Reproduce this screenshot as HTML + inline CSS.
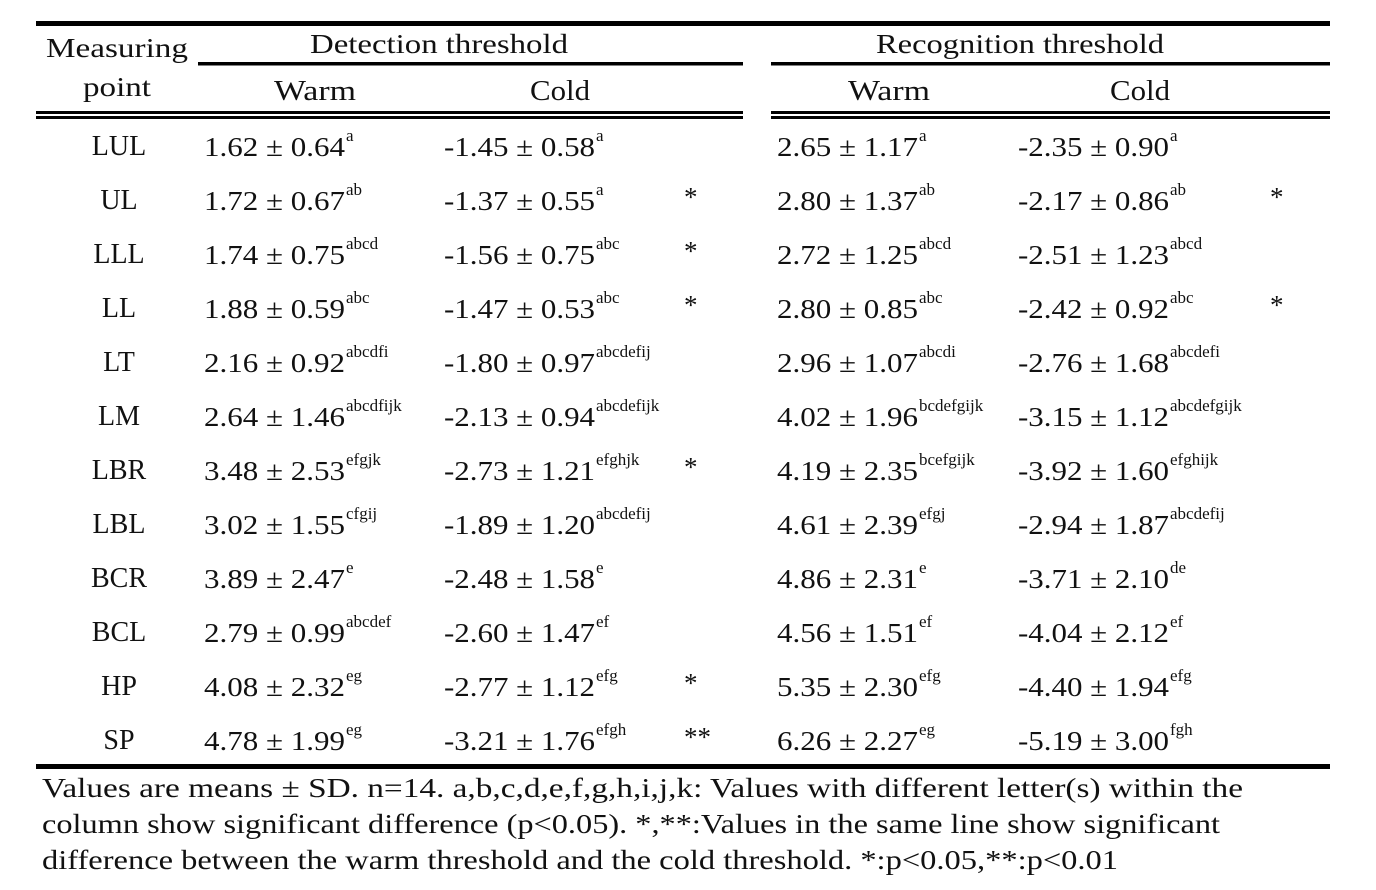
<!DOCTYPE html>
<html><head><meta charset="utf-8"><style>
html,body{margin:0;padding:0;background:#fff;}
svg{display:block;}
text{font-family:"Liberation Serif",serif;fill:#111;}
.m{font-size:27px;}
.l{font-size:28px;}
.s{font-size:17px;}
</style></head><body>
<svg width="1376" height="890" viewBox="0 0 1376 890" xmlns="http://www.w3.org/2000/svg">
<rect x="36" y="21" width="1294" height="5" fill="#000"/>
<rect x="198" y="62" width="545" height="3.5" fill="#000"/>
<rect x="771" y="62" width="559" height="3.5" fill="#000"/>
<rect x="36" y="111" width="707" height="3" fill="#000"/>
<rect x="36" y="116" width="707" height="3" fill="#000"/>
<rect x="771" y="111" width="559" height="3" fill="#000"/>
<rect x="771" y="116" width="559" height="3" fill="#000"/>
<rect x="36" y="764" width="1294" height="5" fill="#000"/>

<text class="m" x="117" y="57" text-anchor="middle" textLength="142" lengthAdjust="spacingAndGlyphs">Measuring</text>
<text class="m" x="117" y="96" text-anchor="middle" textLength="68" lengthAdjust="spacingAndGlyphs">point</text>
<text class="m" x="310" y="53" textLength="258" lengthAdjust="spacingAndGlyphs">Detection threshold</text>
<text class="m" x="876" y="53" textLength="288" lengthAdjust="spacingAndGlyphs">Recognition threshold</text>
<text class="l" x="274" y="100" textLength="82" lengthAdjust="spacingAndGlyphs">Warm</text>
<text class="l" x="530" y="100" textLength="60" lengthAdjust="spacingAndGlyphs">Cold</text>
<text class="l" x="848" y="100" textLength="82" lengthAdjust="spacingAndGlyphs">Warm</text>
<text class="l" x="1110" y="100" textLength="60" lengthAdjust="spacingAndGlyphs">Cold</text>

<g>
<text class="l" x="119" y="155" text-anchor="middle">LUL</text>
<text class="m" x="204" y="156" textLength="141" lengthAdjust="spacingAndGlyphs">1.62 ± 0.64</text><text class="s" x="346" y="141">a</text>
<text class="m" x="444" y="156" textLength="151" lengthAdjust="spacingAndGlyphs">-1.45 ± 0.58</text><text class="s" x="596" y="141">a</text>
<text class="m" x="777" y="156" textLength="141" lengthAdjust="spacingAndGlyphs">2.65 ± 1.17</text><text class="s" x="919" y="141">a</text>
<text class="m" x="1018" y="156" textLength="151" lengthAdjust="spacingAndGlyphs">-2.35 ± 0.90</text><text class="s" x="1170" y="141">a</text>

<text class="l" x="119" y="209" text-anchor="middle">UL</text>
<text class="m" x="204" y="210" textLength="141" lengthAdjust="spacingAndGlyphs">1.72 ± 0.67</text><text class="s" x="346" y="195">ab</text>
<text class="m" x="444" y="210" textLength="151" lengthAdjust="spacingAndGlyphs">-1.37 ± 0.55</text><text class="s" x="596" y="195">a</text>
<text class="m" x="684" y="206">*</text>
<text class="m" x="777" y="210" textLength="141" lengthAdjust="spacingAndGlyphs">2.80 ± 1.37</text><text class="s" x="919" y="195">ab</text>
<text class="m" x="1018" y="210" textLength="151" lengthAdjust="spacingAndGlyphs">-2.17 ± 0.86</text><text class="s" x="1170" y="195">ab</text>
<text class="m" x="1270" y="206">*</text>

<text class="l" x="119" y="263" text-anchor="middle">LLL</text>
<text class="m" x="204" y="264" textLength="141" lengthAdjust="spacingAndGlyphs">1.74 ± 0.75</text><text class="s" x="346" y="249">abcd</text>
<text class="m" x="444" y="264" textLength="151" lengthAdjust="spacingAndGlyphs">-1.56 ± 0.75</text><text class="s" x="596" y="249">abc</text>
<text class="m" x="684" y="260">*</text>
<text class="m" x="777" y="264" textLength="141" lengthAdjust="spacingAndGlyphs">2.72 ± 1.25</text><text class="s" x="919" y="249">abcd</text>
<text class="m" x="1018" y="264" textLength="151" lengthAdjust="spacingAndGlyphs">-2.51 ± 1.23</text><text class="s" x="1170" y="249">abcd</text>

<text class="l" x="119" y="317" text-anchor="middle">LL</text>
<text class="m" x="204" y="318" textLength="141" lengthAdjust="spacingAndGlyphs">1.88 ± 0.59</text><text class="s" x="346" y="303">abc</text>
<text class="m" x="444" y="318" textLength="151" lengthAdjust="spacingAndGlyphs">-1.47 ± 0.53</text><text class="s" x="596" y="303">abc</text>
<text class="m" x="684" y="314">*</text>
<text class="m" x="777" y="318" textLength="141" lengthAdjust="spacingAndGlyphs">2.80 ± 0.85</text><text class="s" x="919" y="303">abc</text>
<text class="m" x="1018" y="318" textLength="151" lengthAdjust="spacingAndGlyphs">-2.42 ± 0.92</text><text class="s" x="1170" y="303">abc</text>
<text class="m" x="1270" y="314">*</text>

<text class="l" x="119" y="371" text-anchor="middle">LT</text>
<text class="m" x="204" y="372" textLength="141" lengthAdjust="spacingAndGlyphs">2.16 ± 0.92</text><text class="s" x="346" y="357">abcdfi</text>
<text class="m" x="444" y="372" textLength="151" lengthAdjust="spacingAndGlyphs">-1.80 ± 0.97</text><text class="s" x="596" y="357">abcdefij</text>
<text class="m" x="777" y="372" textLength="141" lengthAdjust="spacingAndGlyphs">2.96 ± 1.07</text><text class="s" x="919" y="357">abcdi</text>
<text class="m" x="1018" y="372" textLength="151" lengthAdjust="spacingAndGlyphs">-2.76 ± 1.68</text><text class="s" x="1170" y="357">abcdefi</text>

<text class="l" x="119" y="425" text-anchor="middle">LM</text>
<text class="m" x="204" y="426" textLength="141" lengthAdjust="spacingAndGlyphs">2.64 ± 1.46</text><text class="s" x="346" y="411">abcdfijk</text>
<text class="m" x="444" y="426" textLength="151" lengthAdjust="spacingAndGlyphs">-2.13 ± 0.94</text><text class="s" x="596" y="411">abcdefijk</text>
<text class="m" x="777" y="426" textLength="141" lengthAdjust="spacingAndGlyphs">4.02 ± 1.96</text><text class="s" x="919" y="411">bcdefgijk</text>
<text class="m" x="1018" y="426" textLength="151" lengthAdjust="spacingAndGlyphs">-3.15 ± 1.12</text><text class="s" x="1170" y="411">abcdefgijk</text>

<text class="l" x="119" y="479" text-anchor="middle">LBR</text>
<text class="m" x="204" y="480" textLength="141" lengthAdjust="spacingAndGlyphs">3.48 ± 2.53</text><text class="s" x="346" y="465">efgjk</text>
<text class="m" x="444" y="480" textLength="151" lengthAdjust="spacingAndGlyphs">-2.73 ± 1.21</text><text class="s" x="596" y="465">efghjk</text>
<text class="m" x="684" y="476">*</text>
<text class="m" x="777" y="480" textLength="141" lengthAdjust="spacingAndGlyphs">4.19 ± 2.35</text><text class="s" x="919" y="465">bcefgijk</text>
<text class="m" x="1018" y="480" textLength="151" lengthAdjust="spacingAndGlyphs">-3.92 ± 1.60</text><text class="s" x="1170" y="465">efghijk</text>

<text class="l" x="119" y="533" text-anchor="middle">LBL</text>
<text class="m" x="204" y="534" textLength="141" lengthAdjust="spacingAndGlyphs">3.02 ± 1.55</text><text class="s" x="346" y="519">cfgij</text>
<text class="m" x="444" y="534" textLength="151" lengthAdjust="spacingAndGlyphs">-1.89 ± 1.20</text><text class="s" x="596" y="519">abcdefij</text>
<text class="m" x="777" y="534" textLength="141" lengthAdjust="spacingAndGlyphs">4.61 ± 2.39</text><text class="s" x="919" y="519">efgj</text>
<text class="m" x="1018" y="534" textLength="151" lengthAdjust="spacingAndGlyphs">-2.94 ± 1.87</text><text class="s" x="1170" y="519">abcdefij</text>

<text class="l" x="119" y="587" text-anchor="middle">BCR</text>
<text class="m" x="204" y="588" textLength="141" lengthAdjust="spacingAndGlyphs">3.89 ± 2.47</text><text class="s" x="346" y="573">e</text>
<text class="m" x="444" y="588" textLength="151" lengthAdjust="spacingAndGlyphs">-2.48 ± 1.58</text><text class="s" x="596" y="573">e</text>
<text class="m" x="777" y="588" textLength="141" lengthAdjust="spacingAndGlyphs">4.86 ± 2.31</text><text class="s" x="919" y="573">e</text>
<text class="m" x="1018" y="588" textLength="151" lengthAdjust="spacingAndGlyphs">-3.71 ± 2.10</text><text class="s" x="1170" y="573">de</text>

<text class="l" x="119" y="641" text-anchor="middle">BCL</text>
<text class="m" x="204" y="642" textLength="141" lengthAdjust="spacingAndGlyphs">2.79 ± 0.99</text><text class="s" x="346" y="627">abcdef</text>
<text class="m" x="444" y="642" textLength="151" lengthAdjust="spacingAndGlyphs">-2.60 ± 1.47</text><text class="s" x="596" y="627">ef</text>
<text class="m" x="777" y="642" textLength="141" lengthAdjust="spacingAndGlyphs">4.56 ± 1.51</text><text class="s" x="919" y="627">ef</text>
<text class="m" x="1018" y="642" textLength="151" lengthAdjust="spacingAndGlyphs">-4.04 ± 2.12</text><text class="s" x="1170" y="627">ef</text>

<text class="l" x="119" y="695" text-anchor="middle">HP</text>
<text class="m" x="204" y="696" textLength="141" lengthAdjust="spacingAndGlyphs">4.08 ± 2.32</text><text class="s" x="346" y="681">eg</text>
<text class="m" x="444" y="696" textLength="151" lengthAdjust="spacingAndGlyphs">-2.77 ± 1.12</text><text class="s" x="596" y="681">efg</text>
<text class="m" x="684" y="692">*</text>
<text class="m" x="777" y="696" textLength="141" lengthAdjust="spacingAndGlyphs">5.35 ± 2.30</text><text class="s" x="919" y="681">efg</text>
<text class="m" x="1018" y="696" textLength="151" lengthAdjust="spacingAndGlyphs">-4.40 ± 1.94</text><text class="s" x="1170" y="681">efg</text>

<text class="l" x="119" y="749" text-anchor="middle">SP</text>
<text class="m" x="204" y="750" textLength="141" lengthAdjust="spacingAndGlyphs">4.78 ± 1.99</text><text class="s" x="346" y="735">eg</text>
<text class="m" x="444" y="750" textLength="151" lengthAdjust="spacingAndGlyphs">-3.21 ± 1.76</text><text class="s" x="596" y="735">efgh</text>
<text class="m" x="684" y="746">**</text>
<text class="m" x="777" y="750" textLength="141" lengthAdjust="spacingAndGlyphs">6.26 ± 2.27</text><text class="s" x="919" y="735">eg</text>
<text class="m" x="1018" y="750" textLength="151" lengthAdjust="spacingAndGlyphs">-5.19 ± 3.00</text><text class="s" x="1170" y="735">fgh</text>
</g>

<text class="m" x="42" y="797" textLength="1201" lengthAdjust="spacingAndGlyphs">Values are means ± SD. n=14. a,b,c,d,e,f,g,h,i,j,k: Values with different letter(s) within the</text>
<text class="m" x="42" y="833" textLength="1178" lengthAdjust="spacingAndGlyphs">column show significant difference (p&lt;0.05). *,**:Values in the same line show significant</text>
<text class="m" x="42" y="869" textLength="1076" lengthAdjust="spacingAndGlyphs">difference between the warm threshold and the cold threshold. *:p&lt;0.05,**:p&lt;0.01</text>
</svg>
</body></html>
